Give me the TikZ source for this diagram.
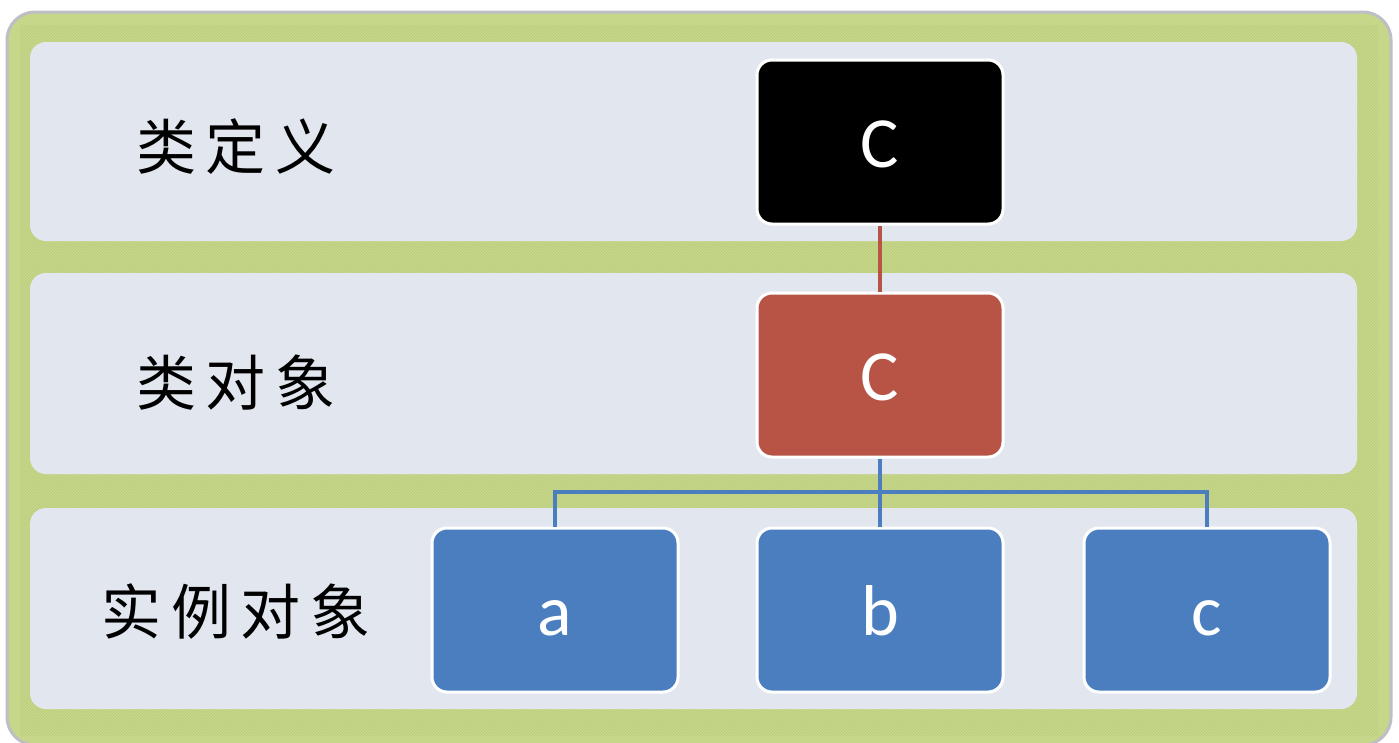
\documentclass[tikz,border=0pt]{standalone}
\usepackage{fontspec}
\setsansfont{Carlito}
\newfontfamily\cjk[LetterSpace=16]{Noto Sans CJK SC}
\usetikzlibrary{positioning}
\usetikzlibrary{patterns}
\definecolor{framegray}{HTML}{BDBEC6}
\definecolor{leaf}{HTML}{C6D78A}
\definecolor{leafline}{HTML}{BACB7E}
\definecolor{band}{HTML}{E2E7EF}
\definecolor{brick}{HTML}{B85445}
\definecolor{sky}{HTML}{4A7EBF}
\tikzstyle{layer}=[fill=band, rounded corners=16pt]
\tikzstyle{box}=[draw=white, line width=3pt, rounded corners=15pt, minimum width=246pt, minimum height=164pt, text height=50pt, text depth=0pt, text=white, font=\sffamily\fontsize{72}{72}\selectfont]
\tikzstyle{lbl}=[font=\cjk\fontsize{60}{60}\selectfont, anchor=center]
\tikzstyle{link}=[line width=4pt]

\begin{document}
\begin{tikzpicture}[x=1pt, y=-1pt]
      \useasboundingbox (0,0) rectangle (1399,742);
      % frame and layers
      \draw [framegray, line width=3pt, fill=leaf, rounded corners=28pt] (7,12) rectangle (1391,745);
      \fill [pattern=north east lines, pattern color=leafline] (20,25) rectangle (1378,735);
      \fill [layer] (30,42) rectangle (1357,241);
      \fill [layer] (30,273) rectangle (1357,474);
      \fill [layer] (30,508) rectangle (1357,709);

      \node [lbl] (ldef) at (236,147) {类定义};
      \node [lbl] (lobj) at (236,383) {类对象};
      \node [lbl] (linst) at (236,612) {实例对象};

      \node [box, fill=black] (meta) at (880,142) {C};
      \node [box, fill=brick] (clsobj) at (880,375) {C};
      \node [box, fill=sky] (insta) at (555,610) {a};
      \node [box, fill=sky] (instb) at (880,610) {b};
      \node [box, fill=sky] (instc) at (1207,610) {c};

      \coordinate (bus) at (880,492);
      \draw [link, brick] (meta.south) -- (clsobj.north);
      \draw [link, sky] (clsobj.south) -- (bus)
                        (bus) -| (insta.north)
                        (bus) -| (instc.north)
                        (bus) -- (instb.north);
\end{tikzpicture}
\end{document}
